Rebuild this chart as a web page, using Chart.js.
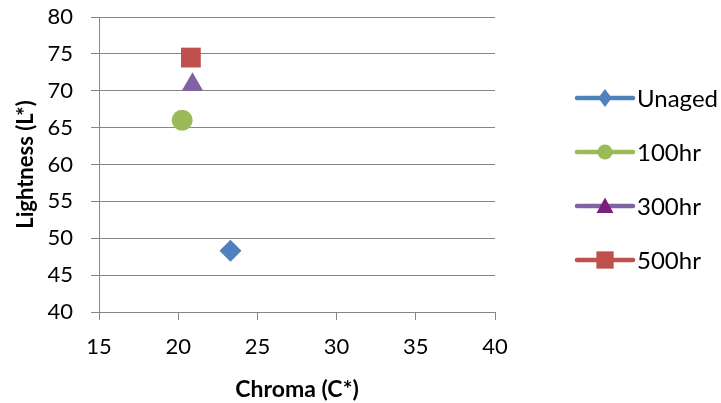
<!DOCTYPE html>
<html>
<head>
<meta charset="utf-8">
<script src="https://cdn.jsdelivr.net/npm/chart.js@4/dist/chart.umd.min.js"></script>
<style>
  html, body { margin: 0; padding: 0; background: #ffffff; }
  canvas { display: block; }
</style>
</head>
<body>
<canvas id="c" width="721" height="403"></canvas>
<script>
// Ageing series: CIE chroma vs lightness
const seriesNames = ['Unaged', '100hr', '300hr', '500hr'];
const chromaValues = [23.3, 20.25, 20.9, 20.8];
const lightnessValues = [48.3, 66.0, 70.8, 74.5];
const xTickRange = [15, 40, 5];   // min, max, step
const yTickRange = [40, 80, 5];

const seriesColors = ['#4F81BD', '#9BBB59', '#8064A2', '#C0504D'];
const legendMarkerColors = ['#4F81BD', '#9BBB59', '#7A1F7C', '#C0504D'];
const pointStyles = ['rectRot', 'circle', 'triangle', 'rect'];
const pointSizes = [11, 10.5, 12.5, 14];
const legendSizes = [9, 7.5, 10, 12];

const FONT = 'Lato, "Open Sans", sans-serif';
const GRID = '#868686';

const datasets = seriesNames.map((name, i) => ({
  label: name,
  data: [{ x: chromaValues[i], y: lightnessValues[i] }],
  pointStyle: pointStyles[i],
  pointRadius: pointSizes[i],
  pointHoverRadius: pointSizes[i],
  backgroundColor: seriesColors[i],
  borderColor: seriesColors[i],
  borderWidth: 0,
  showLine: false
}));

// Draw a legend marker shape centred at (x, y)
function marker(ctx, style, r, x, y) {
  ctx.beginPath();
  if (style === 'circle') {
    ctx.arc(x, y, r, 0, Math.PI * 2);
  } else if (style === 'rect') {
    ctx.rect(x - r * 0.72, y - r * 0.72, r * 1.44, r * 1.44);
  } else if (style === 'rectRot') {
    ctx.moveTo(x, y - r); ctx.lineTo(x + r * 0.75, y); ctx.lineTo(x, y + r); ctx.lineTo(x - r * 0.75, y);
    ctx.closePath();
  } else if (style === 'triangle') {
    ctx.moveTo(x, y - r * 0.85); ctx.lineTo(x + r * 0.85, y + r * 0.7); ctx.lineTo(x - r * 0.85, y + r * 0.7);
    ctx.closePath();
  }
  ctx.fill();
}

const lineLegend = {
  id: 'lineLegend',
  afterDraw(chart) {
    const ctx = chart.ctx;
    const x0 = chart.chartArea.right + 82;
    const x1 = x0 + 56;
    ctx.save();
    seriesNames.forEach((name, i) => {
      const y = 98 + i * 54;
      ctx.strokeStyle = seriesColors[i];
      ctx.lineWidth = 4.5;
      ctx.lineCap = 'round';
      ctx.beginPath();
      ctx.moveTo(x0, y);
      ctx.lineTo(x1, y);
      ctx.stroke();
      ctx.fillStyle = legendMarkerColors[i];
      marker(ctx, pointStyles[i], legendSizes[i], (x0 + x1) / 2, y);
      ctx.fillStyle = '#000000';
      ctx.font = '24px ' + FONT;
      ctx.textAlign = 'left';
      ctx.textBaseline = 'middle';
      ctx.fillText(name, x1 + 4, y + 1);
    });
    ctx.restore();
  }
};

new Chart(document.getElementById('c'), {
  type: 'scatter',
  data: { datasets },
  plugins: [lineLegend],
  options: {
    responsive: false,
    animation: false,
    devicePixelRatio: 1,
    layout: { padding: { left: 0, right: 226, top: 17, bottom: 0 } },
    plugins: { legend: { display: false }, tooltip: { enabled: false } },
    scales: {
      x: {
        type: 'linear',
        min: xTickRange[0],
        max: xTickRange[1],
        ticks: { stepSize: xTickRange[2], color: '#000', padding: 14, font: { family: FONT, size: 22 } },
        grid: { drawOnChartArea: false, drawTicks: true, tickLength: 8, color: GRID },
        border: { color: GRID, width: 1 },
        title: { display: true, text: 'Chroma (C*)', color: '#000', padding: { top: 3, bottom: 0 },
                 font: { family: FONT, size: 23, weight: 'bold' } },
        afterFit(scale) { scale.height = 91; scale.paddingLeft = 0; scale.paddingRight = 0; }
      },
      y: {
        type: 'linear',
        min: yTickRange[0],
        max: yTickRange[1],
        ticks: { stepSize: yTickRange[2], color: '#000', padding: 18, font: { family: FONT, size: 22 } },
        grid: { drawTicks: true, tickLength: 8, color: GRID },
        border: { color: GRID, width: 1 },
        title: { display: true, text: 'Lightness (L*)', color: '#000', padding: { top: 13, bottom: 0 },
                 font: { family: FONT, size: 22, weight: 'bold' } },
        afterFit(scale) { scale.width = 99; scale.paddingTop = 0; scale.paddingBottom = 0; }
      }
    }
  }
});
</script>
</body>
</html>
